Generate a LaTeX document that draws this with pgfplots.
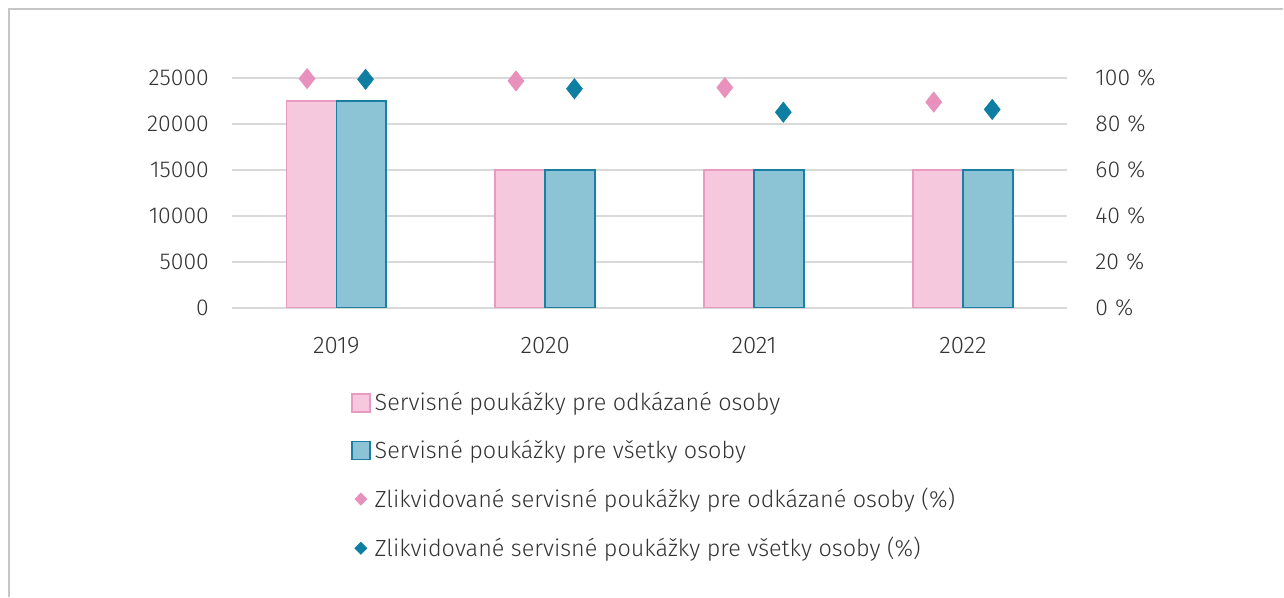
\documentclass[border=0pt]{standalone}
\usepackage{pgfplots}
\pgfplotsset{compat=1.18}
\usepackage{fontspec}
\setmainfont{Fira Sans Light}
\definecolor{pinkfill}{HTML}{F5C8DD}
\definecolor{pinkline}{HTML}{E89AC0}
\definecolor{tealfill}{HTML}{8CC3D5}
\definecolor{tealline}{HTML}{1B7FA3}
\definecolor{pinkmark}{HTML}{E891BC}
\definecolor{tealmark}{HTML}{0E7FA2}
\definecolor{gridc}{HTML}{D9D9D9}
\definecolor{textc}{HTML}{333333}
\begin{document}
\begin{tikzpicture}
\path (0,0) rectangle (642pt,298.5pt);
\draw[color=gray!45, line width=0.7pt] (4.5pt,0pt) -- (4.5pt,294pt) -- (642pt,294pt);
\pgfplotsset{
  common/.style={
    scale only axis, width=418pt, height=115pt,
    at={(116pt,144.5pt)}, anchor=south west,
    xmin=-0.5, xmax=3.5,
    axis line style={draw=none},
    major tick length=0pt,
    tick label style={font=\fontsize{11.5}{13}\selectfont, text=textc},
    /pgf/number format/assume math mode=true,
    /pgf/number format/set thousands separator={},
  }
}
\begin{axis}[common,
  ymin=0, ymax=25000, ytick={0,5000,...,25000},
  ymajorgrids, grid style={color=gridc, line width=0.8pt},
  xtick={0,1,2,3}, xticklabels={2019,2020,2021,2022},
  xticklabel style={yshift=-11pt, font=\fontsize{12}{13}\selectfont},
  yticklabel style={xshift=-8pt},
  scaled y ticks=false,
]
\addplot[ybar, bar width=25pt, bar shift=-12.5pt, fill=pinkfill, draw=pinkline, line width=0.8pt]
  coordinates {(0,22500) (1,15000) (2,15000) (3,15000)};
\addplot[ybar, bar width=25pt, bar shift=12.5pt, fill=tealfill, draw=tealline, line width=0.8pt]
  coordinates {(0,22500) (1,15000) (2,15000) (3,15000)};
\end{axis}
\begin{axis}[common,
  ymin=0, ymax=100, ytick={0,20,...,100},
  axis y line*=right,
  hide x axis,
  yticklabel={\pgfmathprintnumber{\tick}\hspace{3.5pt}\%},
  yticklabel style={xshift=10.5pt},
  legend cell align=left,
  legend style={at={(0.135,-0.33)}, anchor=north west, draw=none, fill=none,
    font=\fontsize{11.7}{13}\selectfont, text=textc, row sep=9.3pt,
    /tikz/every even column/.append style={column sep=2pt}},
]
\addlegendimage{legend image code/.code={\draw[fill=pinkfill, draw=pinkline, line width=0.8pt] (0pt,-4.5pt) rectangle (9pt,4.5pt);}}
\addlegendentry{Servisné poukážky pre odkázané osoby}
\addlegendimage{legend image code/.code={\draw[fill=tealfill, draw=tealline, line width=0.8pt] (0pt,-4.5pt) rectangle (9pt,4.5pt);}}
\addlegendentry{Servisné poukážky pre všetky osoby}
\addplot[only marks, mark=diamond*, mark size=5pt, color=pinkmark, mark options={xscale=1.05},
  legend image code/.code={\draw[mark size=3pt, color=pinkmark] plot[mark=diamond*, mark options={xscale=1.3}] coordinates {(4.5pt,0pt)};}]
  coordinates {(-0.14,99.7) (0.86,98.7) (1.86,95.8) (2.86,89.5)};
\addlegendentry{Zlikvidované servisné poukážky pre odkázané osoby (\%)}
\addplot[only marks, mark=diamond*, mark size=5pt, color=tealmark, mark options={xscale=1.05},
  legend image code/.code={\draw[mark size=3pt, color=tealmark] plot[mark=diamond*, mark options={xscale=1.3}] coordinates {(4.5pt,0pt)};}]
  coordinates {(0.14,99.4) (1.14,95.3) (2.14,85.1) (3.14,86.3)};
\addlegendentry{Zlikvidované servisné poukážky pre všetky osoby (\%)}
\end{axis}
\end{tikzpicture}
\end{document}
